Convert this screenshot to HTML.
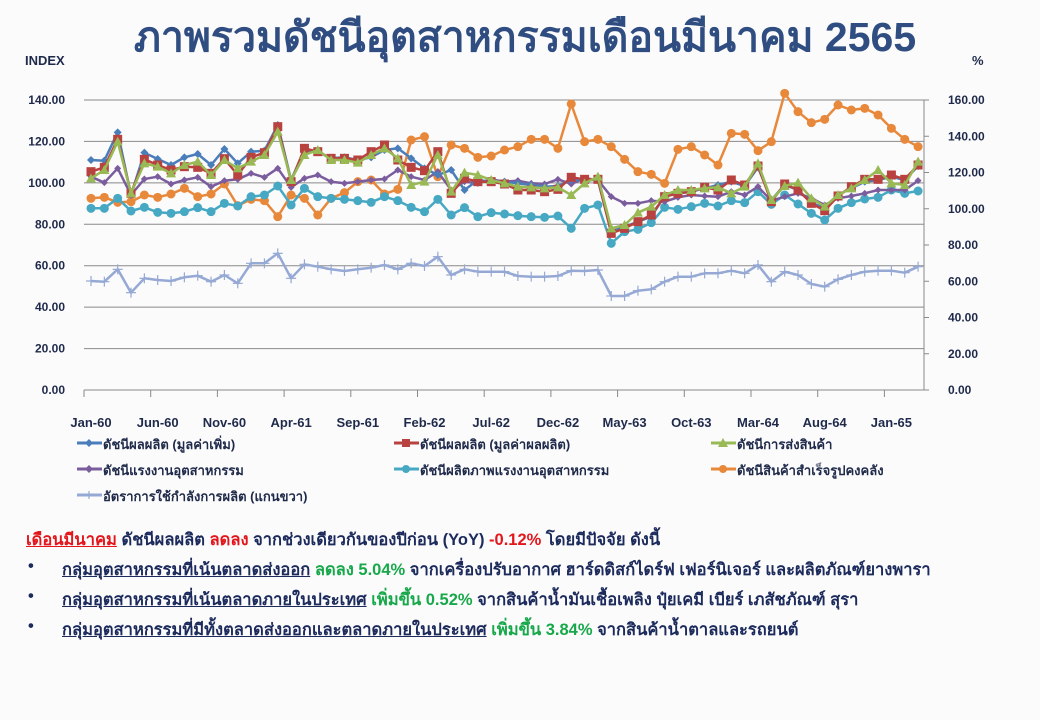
<!DOCTYPE html>
<html><head><meta charset="utf-8"><style>
body{margin:0;width:1040px;height:720px;overflow:hidden;background:#fbfbfc;font-family:"Liberation Sans",sans-serif;}
#wrap{position:relative;width:1040px;height:720px;}
.t{position:absolute;white-space:nowrap;}
.title{left:0;width:1050px;text-align:center;top:5px;font-size:41px;font-weight:bold;color:#2f4d80;}
.lg{font-size:13px;font-weight:bold;color:#1f2a4a;}
.tx{font-size:16.5px;color:#1c2b5c;font-weight:bold;}
.u{text-decoration:underline;}
.red{color:#e3161b;}
.grn{color:#17a84a;}
</style></head><body><div id="wrap">
<svg width="1040" height="720" style="position:absolute;left:0;top:0">
<g id="grid" stroke="#8a8a8a" stroke-width="1"></g>
<g id="series"></g>
<g id="labels" font-family="Liberation Sans, sans-serif" font-size="12" font-weight="bold" fill="#1f2a4a"></g>
</svg>
<div class="t title">ภาพรวมดัชนีอุตสาหกรรมเดือนมีนาคม 2565</div>
<div class="t lg" style="left:25px;top:53px;font-size:13px">INDEX</div>
<div class="t lg" style="left:972px;top:53px;font-size:13px">%</div>
<div class="t lg" style="left:103px;top:434px">ดัชนีผลผลิต (มูลค่าเพิ่ม)</div>
<div class="t lg" style="left:420px;top:434px">ดัชนีผลผลิต (มูลค่าผลผลิต)</div>
<div class="t lg" style="left:737px;top:434px">ดัชนีการส่งสินค้า</div>
<div class="t lg" style="left:103px;top:460px">ดัชนีแรงงานอุตสาหกรรม</div>
<div class="t lg" style="left:420px;top:460px">ดัชนีผลิตภาพแรงงานอุตสาหกรรม</div>
<div class="t lg" style="left:737px;top:460px">ดัชนีสินค้าสำเร็จรูปคงคลัง</div>
<div class="t lg" style="left:103px;top:486px">อัตราการใช้กำลังการผลิต (แกนขวา)</div>
<div class="t tx" style="left:26px;top:527px"><span class="u red">เดือนมีนาคม</span> ดัชนีผลผลิต <span class="red">ลดลง</span> จากช่วงเดียวกันของปีก่อน (YoY) <span class="red">-0.12%</span> โดยมีปัจจัย ดังนี้</div>
<div class="t tx" style="left:28px;top:557px">•</div>
<div class="t tx" style="left:62px;top:557px"><span class="u">กลุ่มอุตสาหกรรมที่เน้นตลาดส่งออก</span> <span class="grn">ลดลง 5.04%</span> จากเครื่องปรับอากาศ ฮาร์ดดิสก์ไดร์ฟ เฟอร์นิเจอร์ และผลิตภัณฑ์ยางพารา</div>
<div class="t tx" style="left:28px;top:587px">•</div>
<div class="t tx" style="left:62px;top:587px"><span class="u">กลุ่มอุตสาหกรรมที่เน้นตลาดภายในประเทศ</span> <span class="grn">เพิ่มขึ้น 0.52%</span> จากสินค้าน้ำมันเชื้อเพลิง ปุ๋ยเคมี เบียร์ เภสัชภัณฑ์ สุรา</div>
<div class="t tx" style="left:28px;top:617px">•</div>
<div class="t tx" style="left:62px;top:617px"><span class="u">กลุ่มอุตสาหกรรมที่มีทั้งตลาดส่งออกและตลาดภายในประเทศ</span> <span class="grn">เพิ่มขึ้น 3.84%</span> จากสินค้าน้ำตาลและรถยนต์</div>
</div>
<script>
var NS="http://www.w3.org/2000/svg";
function el(p,t,a){var e=document.createElementNS(NS,t);for(var k in a)e.setAttribute(k,a[k]);p.appendChild(e);return e;}
var g=document.getElementById('grid'),L=document.getElementById('labels'),S=document.getElementById('series');
var x0=84,x1=924;
for(var i=0;i<8;i++){var y=390-i*41.43;el(g,'line',{x1:x0,x2:x1,y1:y,y2:y});
 var t=el(L,'text',{x:65,y:y+4,'text-anchor':'end'});t.textContent=(i*20).toFixed(2);}
for(var i=0;i<9;i++){var y=390-i*36.25;el(g,'line',{x1:x1,x2:x1+5,y1:y,y2:y});
 var t=el(L,'text',{x:948,y:y+4});t.textContent=(i*20).toFixed(2);}
el(g,'line',{x1:x1,x2:x1,y1:100,y2:390});
var labs=['Jan-60','Jun-60','Nov-60','Apr-61','Sep-61','Feb-62','Jul-62','Dec-62','May-63','Oct-63','Mar-64','Aug-64','Jan-65'];
for(var k=0;k<13;k++){var x=x0+k*66.7;el(g,'line',{x1:x,x2:x,y1:390,y2:397});
 var t=el(L,'text',{x:91+k*66.7,y:427,'text-anchor':'middle','font-size':13});t.textContent=labs[k];}
function px(i){return 91+13.34*i;}
function conv(a,b){return a.map(function(z){return 80+z/3;}).concat(b.map(function(z){return 80+z/3;}));}
var red=conv([275,262,178,340,238,255,270,260,262,280,236,285,232,218,140,305,205,215,235,235,240,215,195,240,262,272,215,340,295,305,305,312,330],
[330,335,328,292,298,298,460,445,425,405,350,340,335,322,330,300,315,258,365,312,330,370,392,348,320,298,298,285,298,255]);
var blue=conv([240,242,157,345,218,237,255,232,222,255,207,250,215,212,135,300,210,215,235,232,240,232,210,205,235,265,285,270,330,300,305,305,310],
[315,320,318,300,300,300,455,440,425,410,348,340,335,325,315,305,318,262,360,315,330,368,385,345,325,305,300,290,300,258]);
var green=conv([295,270,185,340,250,260,280,255,245,285,240,265,245,225,155,300,225,210,240,240,248,225,205,235,315,305,225,335,278,285,300,310,320],
[322,325,322,345,310,290,445,435,398,380,345,330,330,325,322,340,320,250,360,318,308,355,380,345,325,300,270,310,315,245]);
var purple=conv([290,308,265,345,297,290,312,300,292,320,302,298,280,292,265,322,295,285,305,310,305,300,297,270,290,300,275,330,305,310,298,305,302],
[310,312,298,312,295,300,350,370,370,362,365,352,345,348,350,335,345,320,362,350,340,355,375,355,348,340,330,330,330,302]);
var teal=conv([385,385,355,393,382,397,400,395,383,395,370,378,350,345,318,375,325,350,355,358,362,367,350,362,382,395,358,405,383,410,398,402,407],
[410,412,408,445,385,375,490,455,448,428,382,388,380,370,378,362,368,335,373,345,372,400,420,385,368,357,352,330,340,333]);
var orange=conv([355,352,367,365,345,352,342,325,350,342,312,377,358,362,410,345,355,405,355,338,305,300,342,328,180,170,290,195,205,232,228,210,200],
[178,178,205,72,185,178,200,238,275,283,310,208,200,225,255,160,163,212,185,40,95,128,118,75,90,85,105,145,178,200]);
var light=conv([603,605,568,638,595,600,603,592,587,605,585,610,550,550,520,595,553,560,568,573,568,563,555,568,550,558,530,585,568,575,575,575,588],
[590,590,588,572,573,570,648,648,632,628,605,590,590,580,580,572,580,555,605,575,585,612,620,598,585,575,572,572,578,560]);
function mk(p,type,x,y,c,s){
 if(type=='d')el(p,'polygon',{points:[x,y-s,x+s,y,x,y+s,x-s,y].join(' '),fill:c});
 else if(type=='s')el(p,'rect',{x:x-s,y:y-s,width:2*s,height:2*s,fill:c});
 else if(type=='t')el(p,'polygon',{points:[x,y-s-1,x+s+1,y+s,x-s-1,y+s].join(' '),fill:c});
 else if(type=='c')el(p,'circle',{cx:x,cy:y,r:s,fill:c});
 else if(type=='p'){el(p,'line',{x1:x-s,x2:x+s,y1:y,y2:y,stroke:c,'stroke-width':1.2});el(p,'line',{x1:x,x2:x,y1:y-s,y2:y+s,stroke:c,'stroke-width':1.2});}
}
function ser(d,c,type,s){var pts=d.slice(0,63).map(function(y,i){return px(i).toFixed(1)+','+y.toFixed(1);});
 el(S,'polyline',{points:pts.join(' '),fill:'none',stroke:c,'stroke-width':2.5,'stroke-linejoin':'round'});
 d.slice(0,63).forEach(function(y,i){mk(S,type,px(i),y,c,s);});}
ser(light,'#95a9d4','p',5);
ser(orange,'#e8883a','c',4.5);
ser(teal,'#46a8c2','c',4.5);
ser(purple,'#7b5d9e','d',3.5);
ser(blue,'#4a7ebb','d',4);
ser(red,'#b8423f','s',4.5);
ser(green,'#98b954','t',4);
var leg=[[88,443,'#4a7ebb','d'],[405,443,'#b8423f','s'],[722,443,'#98b954','t'],[88,469,'#7b5d9e','d'],[405,469,'#46a8c2','c'],[722,469,'#e8883a','c'],[88,495,'#95a9d4','p']];
leg.forEach(function(l){el(S,'line',{x1:l[0]-11,x2:l[0]+14,y1:l[1],y2:l[1],stroke:l[2],'stroke-width':3});mk(S,l[3],l[0]+1,l[1],l[2],4);});
</script>
</body></html>
